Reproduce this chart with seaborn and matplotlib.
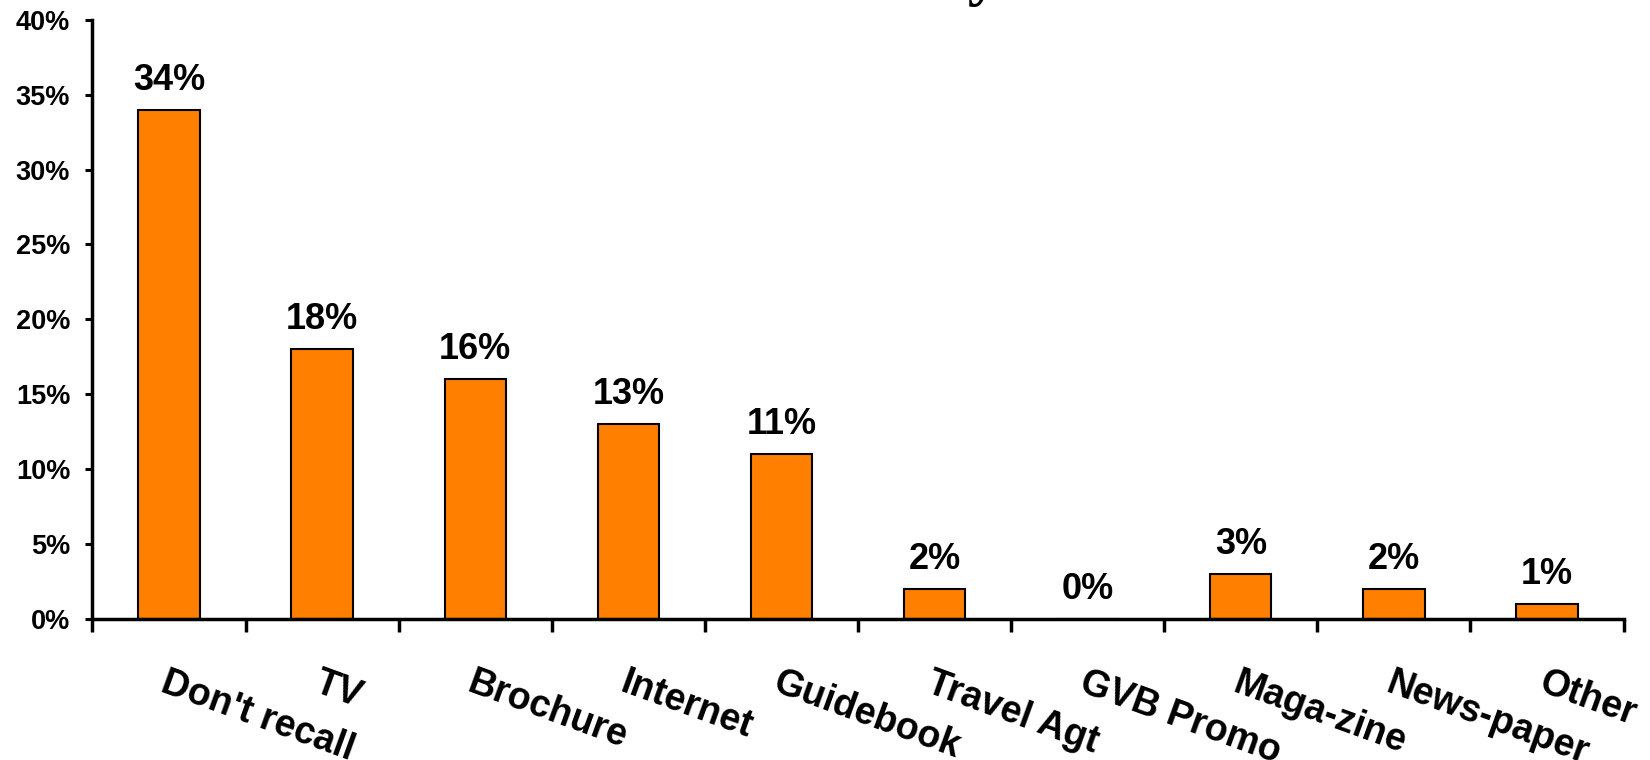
import matplotlib
matplotlib.use("Agg")
import matplotlib.pyplot as plt
import seaborn as sns
import pandas as pd
from matplotlib.ticker import FixedLocator, FuncFormatter

categories = ["Don't recall", "TV", "Brochure", "Internet", "Guidebook",
              "Travel Agt", "GVB Promo", "Maga-zine", "News-paper", "Other"]
values = [34, 18, 16, 13, 11, 2, 0, 3, 2, 1]
y_ticks = [0, 5, 10, 15, 20, 25, 30, 35, 40]

df = pd.DataFrame({"source": categories, "pct": values})

sns.set_theme(style="white")
plt.rcParams["font.family"] = ["Liberation Sans", "DejaVu Sans"]
plt.rcParams["font.weight"] = "bold"
plt.rcParams["text.color"] = "black"
plt.rcParams["xtick.color"] = "black"
plt.rcParams["ytick.color"] = "black"

fig = plt.figure(figsize=(16.5, 7.6), dpi=100)
ax = fig.add_axes([0.056, 0.1855, 0.928, 0.7885])

sns.barplot(data=df, x="source", y="pct", color="#FF7F00", saturation=1,
            width=0.4, edgecolor="black", linewidth=1.5, ax=ax)

ax.set_xlim(-0.5, len(categories) - 0.5)
ax.set_ylim(0, 40)
ax.set_xlabel("")
ax.set_ylabel("")

# y axis
ax.set_yticks(y_ticks)
ax.yaxis.set_major_formatter(FuncFormatter(lambda v, p: f"{int(v)}%"))
ax.tick_params(axis="y", which="major", direction="out", length=5, width=2.2,
               labelsize=19.5, pad=11, left=True, color="black",
               labelcolor="black")
for t in ax.get_yticklabels():
    t.set_fontweight("bold")

# x axis: labels at category centres, ticks at category boundaries
ax.set_xticks(range(len(categories)))
ax.set_xticklabels(categories, rotation=-20, ha="left", va="top",
                   rotation_mode="anchor", fontsize=27, fontweight="bold",
                   color="black")
ax.tick_params(axis="x", which="major", length=0, pad=33)
ax.xaxis.set_minor_locator(FixedLocator([i - 0.5 for i in range(len(categories) + 1)]))
ax.tick_params(axis="x", which="minor", direction="out", length=9, width=2.5,
               bottom=True, color="black")

for side in ["top", "right"]:
    ax.spines[side].set_visible(False)
for side in ["left", "bottom"]:
    ax.spines[side].set_color("black")
    ax.spines[side].set_linewidth(2.5)

# value labels
for i, v in enumerate(values):
    ax.text(i, v + 0.8, f"{v}%", ha="center", va="bottom",
            fontsize=26, fontweight="bold", color="black")

fig.text(0.518, 1 + 7 / 760, "Last 30 days", ha="center", va="baseline",
         fontsize=46, fontfamily="Liberation Serif", fontweight="bold")

fig.savefig("out.png", dpi=100)
